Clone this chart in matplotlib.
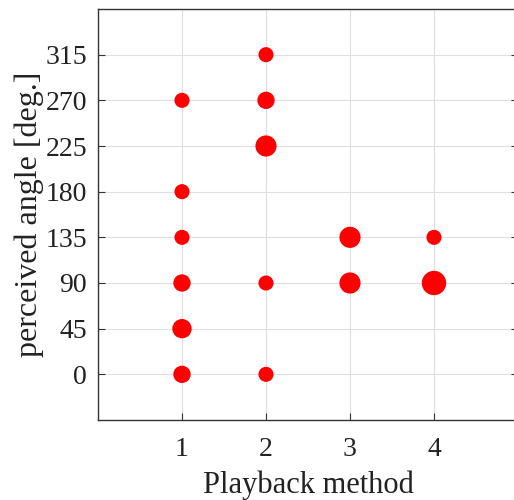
import numpy as np
import matplotlib
matplotlib.use("Agg")
import matplotlib.pyplot as plt

# playback method, perceived angle, number of answers
method = [1, 1, 1, 1, 1, 1, 2, 2, 2, 2, 2, 3, 3, 4, 4]
angle = [0, 45, 90, 135, 180, 270, 0, 90, 225, 270, 315, 90, 135, 90, 135]
count = [2, 3, 2, 1, 1, 1, 1, 1, 4, 2, 1, 4, 4, 6, 1]

yticks = [0, 45, 90, 135, 180, 225, 270, 315]
xticks = [1, 2, 3, 4]

plt.rcParams['font.family'] = ['Liberation Serif', 'DejaVu Serif']

fig = plt.figure(figsize=(5.14, 5.00), dpi=100)
ax = fig.add_axes([98 / 514, 80 / 500, 420 / 514, 411 / 500])

# marker area grows with the number of answers
sizes = 80 + 38 * np.array(count)
ax.scatter(method, angle, s=sizes, color='#ff0000', edgecolors='none', zorder=3)

ax.set_xlim(0, 5)
ax.set_ylim(-45, 360)
ax.set_xticks(xticks)
ax.set_yticks(yticks)
ax.grid(True, color='#e0dee4', linewidth=0.8)
ax.set_axisbelow(True)
ax.tick_params(direction='in', length=5, labelsize=20, right=True, top=False,
               color='#333333', labelcolor='#222222', pad=8)
ax.tick_params(axis='x', pad=12)
for sp in ax.spines.values():
    sp.set_color('#333333')
    sp.set_linewidth(1.0)

ax.set_xlabel('Playback method', fontsize=22, color='#222222', labelpad=6)
ax.set_ylabel('perceived angle [deg.]', fontsize=23, color='#222222', labelpad=1)

fig.savefig('out.png', dpi=100)
